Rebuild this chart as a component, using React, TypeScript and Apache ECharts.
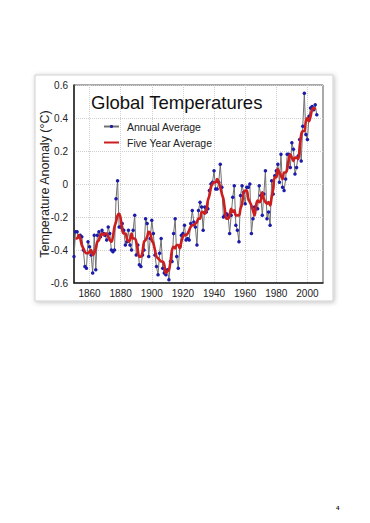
import React, { useEffect, useRef } from "react";
import * as echarts from "echarts";

const annualStartYear = 1850;
const annualTemps = [
  -0.44, -0.29, -0.29, -0.32, -0.31, -0.32, -0.4, -0.5, -0.51, -0.35,
  -0.38, -0.43, -0.54, -0.31, -0.52, -0.31, -0.29, -0.32, -0.28, -0.3,
  -0.31, -0.34, -0.26, -0.3, -0.4, -0.41, -0.4, -0.09, 0.02, -0.26,
  -0.26, -0.24, -0.28, -0.37, -0.35, -0.28, -0.37, -0.4, -0.28, -0.19,
  -0.43, -0.37, -0.49, -0.5, -0.43, -0.4, -0.21, -0.24, -0.44, -0.33,
  -0.22, -0.3, -0.43, -0.5, -0.55, -0.42, -0.33, -0.51, -0.54, -0.55,
  -0.52, -0.58, -0.47, -0.47, -0.3, -0.21, -0.44, -0.51, -0.38, -0.31,
  -0.3, -0.25, -0.34, -0.33, -0.34, -0.24, -0.16, -0.23, -0.26, -0.37,
  -0.16, -0.11, -0.14, -0.28, -0.14, -0.17, -0.15, -0.04, 0.0, 0.01,
  0.08, -0.03, -0.03, 0.01, 0.12, -0.02, -0.2, -0.19, -0.18, -0.19,
  -0.3, -0.19, -0.08, -0.01, -0.25, -0.28, -0.35, -0.07, -0.01, -0.05,
  -0.12, -0.02, -0.02, 0.0, -0.3, -0.21, -0.14, -0.15, -0.15, -0.01,
  -0.07, -0.19, -0.06, 0.08, -0.21, -0.17, -0.25, 0.02, -0.06, 0.05,
  0.08, 0.12, 0.01, 0.18, -0.02, -0.04, 0.03, 0.18, 0.18, 0.1,
  0.25, 0.21, 0.06, 0.1, 0.17, 0.27, 0.14, 0.35, 0.55, 0.3,
  0.27, 0.41, 0.46, 0.47, 0.45, 0.48, 0.42,
];

const fiveYearStartYear = 1851;
const fiveYearAvg = [
  -0.33, -0.33, -0.31, -0.33, -0.37, -0.39, -0.41, -0.42, -0.42,
  -0.41, -0.4, -0.43, -0.42, -0.39, -0.35, -0.34, -0.31, -0.3, -0.31,
  -0.3, -0.3, -0.32, -0.34, -0.35, -0.32, -0.26, -0.23, -0.19, -0.18,
  -0.21, -0.28, -0.3, -0.3, -0.33, -0.35, -0.34, -0.3, -0.33, -0.33,
  -0.35, -0.4, -0.44, -0.44, -0.41, -0.35, -0.34, -0.32, -0.29, -0.3,
  -0.34, -0.36, -0.4, -0.44, -0.45, -0.46, -0.47, -0.47, -0.49, -0.54,
  -0.53, -0.52, -0.47, -0.4, -0.38, -0.39, -0.37, -0.37, -0.39, -0.35,
  -0.32, -0.31, -0.31, -0.3, -0.28, -0.26, -0.25, -0.25, -0.24, -0.23,
  -0.21, -0.21, -0.17, -0.17, -0.18, -0.16, -0.1, -0.07, -0.02, 0.0,
  0.01, 0.01, 0.03, 0.01, -0.02, -0.06, -0.09, -0.16, -0.21, -0.21,
  -0.19, -0.15, -0.17, -0.16, -0.19, -0.19, -0.19, -0.15, -0.12, -0.05,
  -0.04, -0.04, -0.09, -0.11, -0.13, -0.16, -0.19, -0.13, -0.1, -0.11,
  -0.1, -0.05, -0.09, -0.11, -0.12, -0.11, -0.13, -0.08, -0.03, 0.04,
  0.04, 0.09, 0.07, 0.05, 0.03, 0.07, 0.07, 0.09, 0.15, 0.18,
  0.16, 0.14, 0.16, 0.16, 0.15, 0.21, 0.3, 0.32, 0.32, 0.38,
  0.4, 0.38, 0.41, 0.45, 0.46, 0.45,
];

const xMin = 1850;
const xMax = 2010;
const yMin = -0.6;
const yMax = 0.6;

const FONT = "'Liberation Sans', Arial, sans-serif";

export default function App() {
  const ref = useRef<HTMLDivElement>(null);

  useEffect(() => {
    if (!ref.current) return;
    const chart = echarts.init(ref.current, undefined, { renderer: "svg" });

    const annualData = annualTemps.map((v, i) => [annualStartYear + i, v]);
    const fiveData = fiveYearAvg.map((v, i) => [fiveYearStartYear + i, v]);

    chart.setOption({
      animation: false,
      backgroundColor: "#ffffff",
      textStyle: { fontFamily: FONT },
      grid: {
        left: 74,
        right: 47,
        top: 85,
        bottom: 240,
        show: true,
        borderColor: "#555555",
        borderWidth: 1,
        backgroundColor: "#ffffff",
      },
      graphic: [
        {
          type: "rect",
          z: -10,
          shape: { x: 35, y: 75, width: 298, height: 226 },
          style: {
            fill: "#ffffff",
            stroke: "#d0d0d0",
            lineWidth: 1,
            shadowBlur: 5,
            shadowColor: "rgba(0,0,0,0.25)",
            shadowOffsetX: 1,
            shadowOffsetY: 1,
          },
        },
        {
          type: "text",
          left: 91,
          top: 93,
          z: 10,
          style: {
            text: "Global Temperatures",
            font: `18.5px ${FONT}`,
            fill: "#111111",
          },
        },
        {
          type: "text",
          left: 336,
          top: 505,
          style: {
            text: "4",
            font: `bold 6px ${FONT}`,
            fill: "#111111",
          },
        },
      ],
      legend: {
        orient: "vertical",
        left: 98,
        top: 116,
        itemWidth: 15,
        itemHeight: 4,
        itemGap: 5,
        textStyle: {
          fontFamily: FONT,
          fontSize: 10.5,
          color: "#222222",
          padding: [0, 0, 0, 3],
        },
        data: [
          { name: "Annual Average" },
          { name: "Five Year Average", itemStyle: { opacity: 0 } },
        ],
      },
      xAxis: {
        type: "value",
        min: xMin,
        max: xMax,
        interval: 10,
        axisLine: {
          show: true,
          onZero: false,
          lineStyle: { color: "#222222", width: 1.5 },
        },
        axisTick: { show: false },
        axisLabel: {
          fontFamily: FONT,
          fontSize: 10,
          color: "#222222",
          margin: 5,
          formatter: (v: number) => (v % 20 === 0 ? String(v) : ""),
        },
        splitLine: {
          show: true,
          lineStyle: {
            color: ["rgba(0,0,0,0)", "#cfcfcf"],
            type: "dotted",
            width: 1,
          },
        },
      },
      yAxis: {
        type: "value",
        min: yMin,
        max: yMax,
        interval: 0.2,
        name: "Temperature Anomaly (°C)",
        nameLocation: "middle",
        nameGap: 23,
        nameMoveOverlap: false,
        nameTextStyle: { fontFamily: FONT, fontSize: 12.5, color: "#222222" },
        axisLine: {
          show: true,
          onZero: false,
          lineStyle: { color: "#222222", width: 1.5 },
        },
        axisTick: { show: false },
        axisLabel: {
          fontFamily: FONT,
          fontSize: 10,
          color: "#222222",
          margin: 6,
          formatter: (v: number) => {
            const r = Math.round(v * 10) / 10;
            return r === 0 ? "0" : String(r);
          },
        },
        splitLine: {
          show: true,
          lineStyle: { color: "#cfcfcf", type: "dotted", width: 1 },
        },
      },
      series: [
        {
          name: "Annual Average",
          type: "line",
          data: annualData,
          symbol: "circle",
          symbolSize: 3.5,
          showSymbol: true,
          lineStyle: { color: "#707070", width: 1 },
          itemStyle: { color: "#1c1ca8" },
          z: 2,
        },
        {
          name: "Five Year Average",
          type: "line",
          data: fiveData,
          symbol: "none",
          smooth: 0.4,
          lineStyle: { color: "#cc1e1e", width: 2.6 },
          itemStyle: { color: "#cc1e1e" },
          z: 3,
        },
      ],
    });

    return () => chart.dispose();
  }, []);

  return (
    <div
      ref={ref}
      style={{
        position: "fixed",
        left: 0,
        top: 0,
        width: 370,
        height: 523,
        background: "#ffffff",
      }}
    />
  );
}
